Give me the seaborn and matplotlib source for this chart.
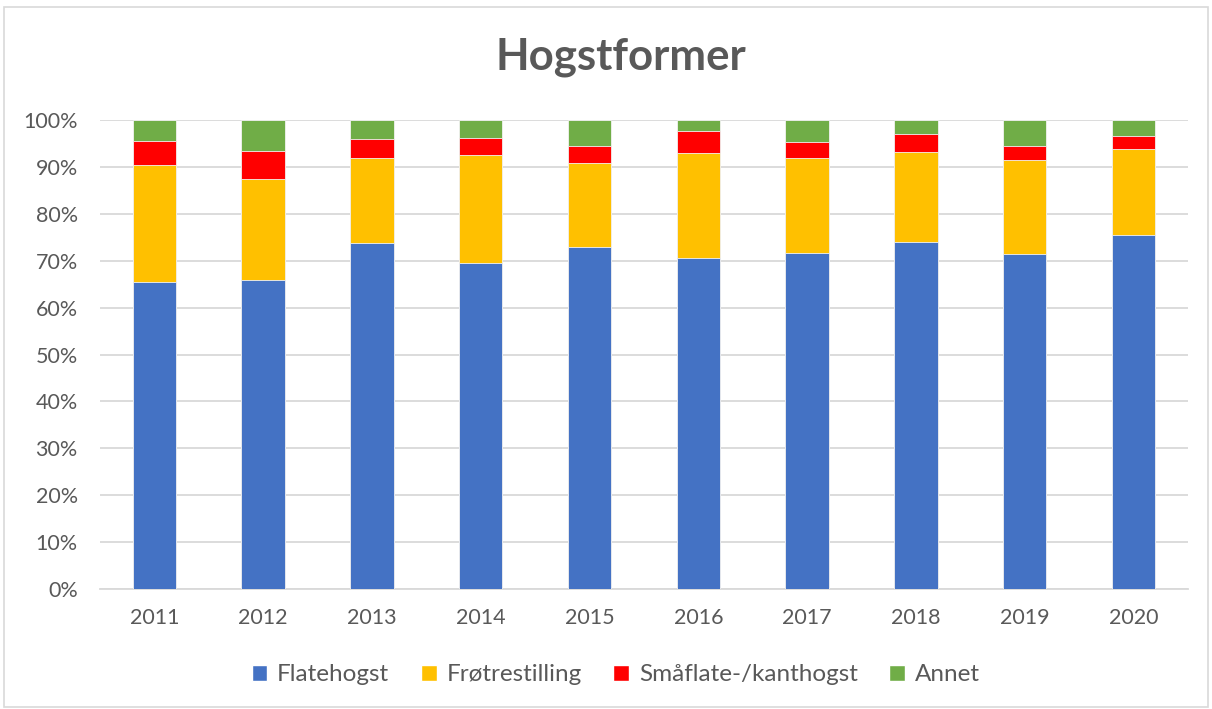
import numpy as np
import pandas as pd
import seaborn as sns
import matplotlib.pyplot as plt
from matplotlib.patches import Patch, Rectangle
from matplotlib.ticker import PercentFormatter

years = ["2011", "2012", "2013", "2014", "2015", "2016", "2017", "2018", "2019", "2020"]
flatehogst = [65.5, 65.8, 73.8, 69.5, 73.0, 70.6, 71.7, 74.0, 71.5, 75.4]
frotrestilling = [25.0, 21.7, 18.1, 23.0, 17.9, 22.3, 20.3, 19.2, 19.9, 18.4]
smaflate = [5.1, 6.0, 4.1, 3.7, 3.5, 4.8, 3.4, 3.8, 3.1, 2.9]
annet = [4.4, 6.5, 4.0, 3.8, 5.6, 2.3, 4.6, 3.0, 5.5, 3.3]

series = ["Flatehogst", "Frøtrestilling", "Småflate-/kanthogst", "Annet"]
values = [flatehogst, frotrestilling, smaflate, annet]
colors = ["#4472c4", "#ffc000", "#ff0000", "#70ad47"]

sns.set_theme(style="white")
plt.rcParams["font.family"] = ["Lato", "DejaVu Sans"]

fig = plt.figure(figsize=(12.12, 7.09), dpi=100)
ax = fig.add_axes([0.0825, 0.1692, 0.8975, 0.6615])

# cumulative totals, draw tallest first so lower parts sit on top
cum = np.cumsum(np.array(values), axis=0)
df = pd.DataFrame(cum.T, columns=series)
df["year"] = years
for name, color in reversed(list(zip(series, colors))):
    sns.barplot(data=df, x="year", y=name, color=color, width=0.4,
                saturation=1, linewidth=0.6, edgecolor="#f2f2f2", ax=ax, zorder=3)

ax.set_ylim(0, 100)
ax.set_yticks(np.arange(0, 101, 10))
ax.yaxis.set_major_formatter(PercentFormatter(decimals=0))
ax.grid(axis="y", color="#d9d9d9", linewidth=1.3, zorder=0)
ax.set_xlabel("")
ax.set_ylabel("")
for s in ["top", "right", "left"]:
    ax.spines[s].set_visible(False)
ax.spines["bottom"].set_color("#d9d9d9")
ax.spines["bottom"].set_linewidth(1.3)
ax.tick_params(axis="both", length=0, labelsize=15.5, labelcolor="#595959")
ax.tick_params(axis="x", pad=14)
ax.tick_params(axis="y", pad=16)
ax.set_xlim(-0.5, len(years) - 0.5)

fig.text(0.512, 0.92, "Hogstformer", ha="center", va="center", fontsize=31.5,
         fontweight="bold", color="#595959")

handles = [Patch(facecolor=c, label=n) for n, c in zip(series, colors)]
fig.legend(handles=handles, loc="center", bbox_to_anchor=(0.508, 0.048), ncol=4,
           frameon=False, fontsize=17.5, labelcolor="#595959",
           handlelength=0.65, handleheight=0.65, columnspacing=1.3, handletextpad=0.4)

fig.patches.append(Rectangle((0.003, 0.003), 0.994, 0.987, transform=fig.transFigure,
                             fill=False, edgecolor="#d9d9d9", linewidth=1.2))

fig.savefig("out.png", dpi=100)
plt.close(fig)
